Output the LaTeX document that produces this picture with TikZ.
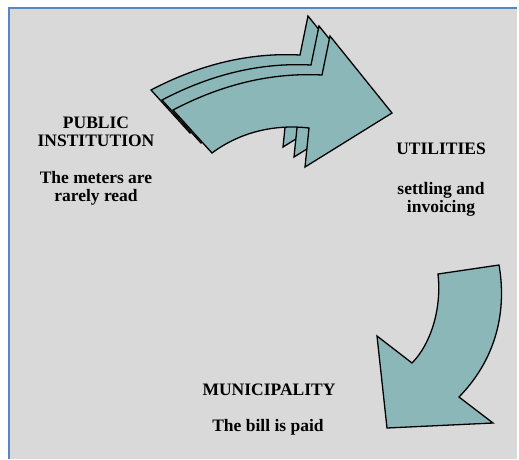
\documentclass[tikz,border=0pt]{standalone}
\usepackage{fontspec}
\setmainfont{Liberation Serif}
\usepackage{xcolor}
\usepackage{tikz}
\definecolor{panelgray}{RGB}{217,217,217}
\definecolor{frameblue}{RGB}{84,135,200}
\definecolor{arrowteal}{RGB}{139,183,185}

\begin{document}
\begin{tikzpicture}[x=1pt,y=1pt]
\tikzstyle{every node}+=[inner sep=0pt]
\tikzstyle{bigarrow}=[draw=black,fill=arrowteal,line width=1.3pt,line join=miter]
\tikzstyle{boxtext}=[align=center,font=\fontsize{17.5}{18}\selectfont\bfseries]
\useasboundingbox (0,0) rectangle (519,-459);
\fill [white] (0,0) rectangle (519,-459);
\fill [panelgray] (9,-8) rectangle (517,-459);
\draw [frameblue,line width=2.5pt] (9,-459) -- (9,-8) -- (517,-8);
\foreach \dx/\dy in {-22/20,-11/10,0/0}
  \draw [bigarrow,shift={(\dx,\dy)}] (173,-110) .. controls (215,-88) and (265,-72) .. (322,-75) -- (330,-36) -- (392,-113) -- (305,-167) -- (309,-128) .. controls (275,-124) and (240,-132) .. (212,-153) -- cycle;
\draw [bigarrow] (438,-274) -- (499,-265) .. controls (506,-305) and (500,-355) .. (459,-397) -- (493,-423) -- (387,-428) -- (377,-336) -- (412,-363) .. controls (430,-345) and (442,-310) .. (438,-274) -- cycle;
\node [boxtext] (pubhead) at (96,-132) {PUBLIC\\INSTITUTION};
\node [boxtext] (pubtext) at (96,-188) {The meters are\\rarely read};
\node [boxtext] (utilhead) at (441,-149) {UTILITIES};
\node [boxtext] (utiltext) at (441,-199) {settling and\\invoicing};
\node [boxtext] (munihead) at (269,-390) {MUNICIPALITY};
\node [boxtext] (munitext) at (268,-427) {The bill is paid};
\end{tikzpicture}
\end{document}
